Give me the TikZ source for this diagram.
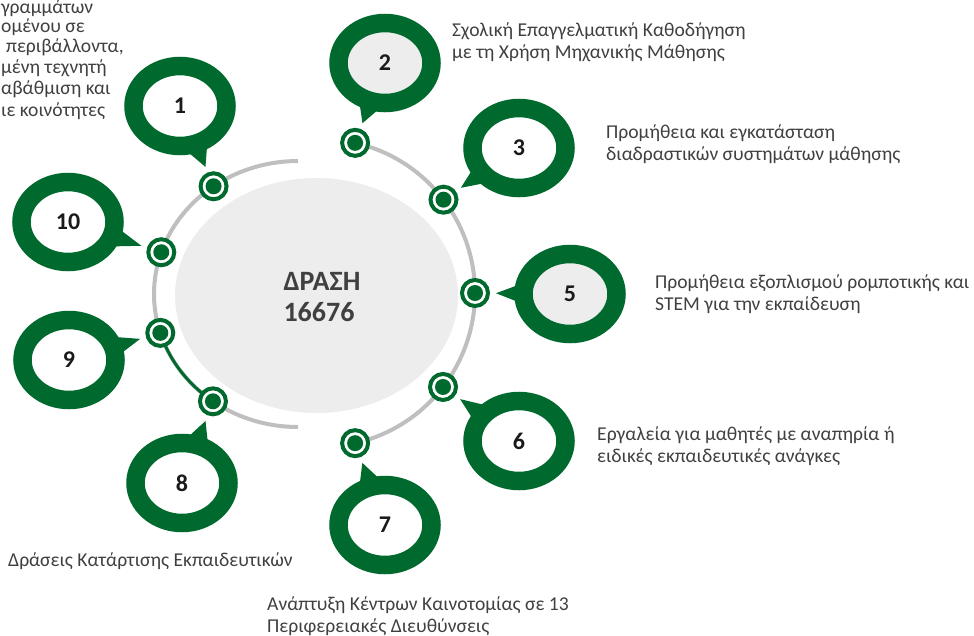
\documentclass[tikz,border=0pt]{standalone}
\usepackage{fontspec}
\setmainfont{Carlito}
\usetikzlibrary{shapes.geometric,calc}
\definecolor{G}{RGB}{0,106,46}
\definecolor{ringgrey}{RGB}{191,191,191}
\definecolor{hubfill}{RGB}{237,237,237}
\definecolor{txt}{RGB}{64,64,64}
\definecolor{numc}{RGB}{26,26,26}
\begin{document}
\begin{tikzpicture}[x=1pt,y=-1pt,
  bubble/.style={ellipse, draw=G, line width=18.5pt, fill=white, minimum width=93pt, minimum height=80pt, inner sep=0pt, font=\fontsize{24}{28}\selectfont\bfseries, text=numc},
  marker/.style={circle, draw=G, line width=4pt, fill=white, minimum size=26pt, inner sep=0pt,
    path picture={\fill[G] (path picture bounding box.center) circle (8pt);}},
  lbl/.style={font=\fontsize{19.6}{22}\selectfont, text=txt, align=left, inner sep=0pt, anchor=base west},
  cut/.style={font=\fontsize{19.6}{22}\selectfont, text=txt, inner sep=0pt, anchor=base west},
  arcline/.style={draw=ringgrey, line width=4pt},
  hub/.style={ellipse, fill=hubfill, minimum width=283pt, minimum height=235pt, inner sep=0pt},
  title/.style={font=\fontsize{28}{31}\selectfont\bfseries, text=txt, align=left, inner sep=0pt}
]
\useasboundingbox (0,0) rectangle (974,635);
\clip (0,0) rectangle (974,635);

% hub
\node[hub] (hubshape) at (316.5,295.5) {};
\node[title] (hubtext) at (322,297.5) {ΔΡΑΣΗ\\16676};

% ring arcs
\draw[arcline] plot[domain=90:270, samples=90, variable=\t] ({298+144*cos(\t)}, {294+133*sin(\t)});
\draw[arcline] plot[domain=-77.2:77.2, samples=90, variable=\t] ({321+154*cos(\t)}, {293+154*sin(\t)});
\draw[G, line width=3pt] plot[domain=126.2:163, samples=40, variable=\t] ({298+144*cos(\t)}, {294+133*sin(\t)});

% markers
\foreach \n/\a in {1/234.1, 10/198.3, 9/163, 8/126.2}
  \node[marker] (m\n) at ({298+144*cos(\a)}, {294+133*sin(\a)}) {};
\foreach \n/\a in {2/-77.2, 3/-37.3, 5/0, 6/37.6, 7/77.2}
  \node[marker] (m\n) at ({321+154*cos(\a)}, {293+154*sin(\a)}) {};

% bubbles with tails
\foreach \n/\cx/\cy/\f in {1/180/106/white, 2/385/63/hubfill, 3/519/148/white, 5/570/294/hubfill, 6/519/441/white, 7/385/525/white, 8/182/483/white, 9/69/360/white, 10/68/222/white} {
  \coordinate (c\n) at (\cx,\cy);
  \fill[G] ($(m\n)!21pt!(c\n)$) -- ($(c\n)!44pt!16:(m\n)$) -- ($(c\n)!44pt!-16:(m\n)$) -- cycle;
  \node[bubble, fill=\f] (b\n) at (c\n) {\n};
}

% labels (base anchor = baseline of the last line)
\node[lbl] (l2) at (452,58) {Σχολική Επαγγελματική Καθοδήγηση\\με τη Χρήση Μηχανικής Μάθησης};
\node[lbl] (l3) at (606,160) {Προμήθεια και εγκατάσταση\\διαδραστικών συστημάτων μάθησης};
\node[lbl] (l5) at (655,310) {Προμήθεια εξοπλισμού ρομποτικής και\\STEM για την εκπαίδευση};
\node[lbl] (l6) at (597,462) {Εργαλεία για μαθητές με αναπηρία ή\\ειδικές εκπαιδευτικές ανάγκες};
\node[lbl] (l7) at (267,632) {Ανάπτυξη Κέντρων Καινοτομίας σε 13\\Περιφερειακές Διευθύνσεις};
\node[lbl] (l8) at (8,566) {Δράσεις Κατάρτισης Εκπαιδευτικών};

% partly visible text at top left
\node[cut] (t1) at (1,13) {γραμμάτων};
\node[cut] (t2) at (1,32) {ομένου σε};
\node[cut] (t3) at (6,52) {περιβάλλοντα,};
\node[cut] (t4) at (1,73) {μένη τεχνητή};
\node[cut] (t5) at (1,94) {αβάθμιση και};
\node[cut] (t6) at (1,116) {ιε κοινότητες};
\end{tikzpicture}
\end{document}
